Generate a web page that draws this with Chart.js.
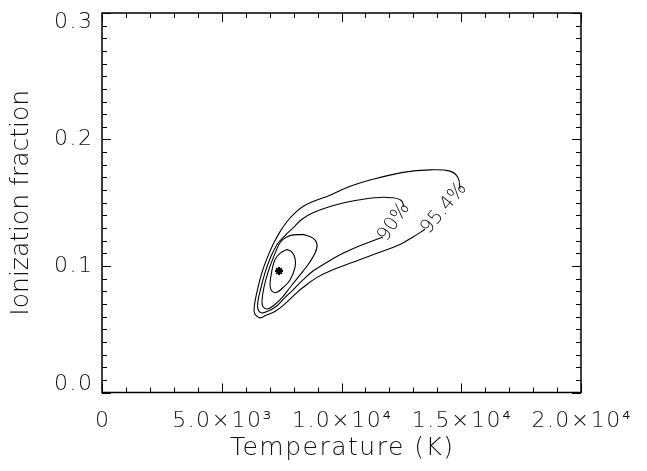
<!DOCTYPE html>
<html>
<head>
<meta charset="utf-8">
<script src="https://cdn.jsdelivr.net/npm/chart.js@4.4.1/dist/chart.umd.min.js"></script>
<style>
  html, body { margin: 0; padding: 0; background: #fff; }
  #wrap { width: 647px; height: 471px; }
</style>
</head>
<body>
<div id="wrap"><canvas id="myChart"></canvas></div>
<script>
'use strict';

// axis ticks
const xTicks = [0, 5000, 10000, 15000, 20000];
const xTickLabels = ['0', '5.0×10³', '1.0×10⁴', '1.5×10⁴', '2.0×10⁴'];
const yTicks = [0, 0.1, 0.2, 0.3];
const yTickLabels = ['0.0', '0.1', '0.2', '0.3'];

// innermost contour (closed)
const c1Temp = [7720, 7930, 8060, 8060, 7850, 7560, 7270, 7060, 7020, 7100, 7220, 7430, 7720];
const c1Frac = [0.113, 0.111, 0.106, 0.099, 0.089, 0.083, 0.079, 0.081, 0.087, 0.097, 0.105, 0.110, 0.113];

// second contour (closed)
const c2Temp = [8390, 8810, 8980, 8890, 8600, 8270, 7850, 7520, 7180, 6890, 6720, 6680, 6760, 6930, 7140, 7390, 7560, 7850, 8390];
const c2Frac = [0.125, 0.122, 0.117, 0.110, 0.101, 0.093, 0.083, 0.075, 0.069, 0.066, 0.068, 0.072, 0.083, 0.095, 0.106, 0.117, 0.121, 0.124, 0.125];

// 90% contour (open where the label sits)
const c3Temp = [12610, 12480, 12110, 11400, 10350, 9520, 8810, 8350, 7970, 7640, 7310, 7020, 6810, 6640, 6510, 6510, 6640, 6890, 7270, 7640, 7970, 8390, 8810, 9400, 10060, 10900, 11730];
const c3Frac = [0.147, 0.152, 0.154, 0.154, 0.151, 0.147, 0.142, 0.137, 0.130, 0.124, 0.117, 0.106, 0.095, 0.083, 0.072, 0.066, 0.063, 0.064, 0.068, 0.075, 0.081, 0.089, 0.096, 0.103, 0.110, 0.117, 0.123];

// 95.4% contour (open where the label sits)
const c4Temp = [14950, 14860, 14530, 13700, 12570, 11190, 10360, 9520, 8810, 8390, 8060, 7720, 7430, 7140, 6890, 6680, 6510, 6390, 6350, 6430, 6600, 6850, 7220, 7640, 7970, 8390, 8980, 9640, 10480, 11480, 12440, 12990, 13490];
const c4Frac = [0.161, 0.170, 0.175, 0.176, 0.174, 0.168, 0.163, 0.156, 0.151, 0.147, 0.142, 0.135, 0.127, 0.117, 0.106, 0.095, 0.083, 0.072, 0.064, 0.061, 0.059, 0.061, 0.064, 0.070, 0.076, 0.083, 0.091, 0.097, 0.103, 0.110, 0.117, 0.123, 0.129];

// best fit
const bestTemp = [7390];
const bestFrac = [0.096];

// contour labels
const contourLabels = ['90%', '95.4%'];
const labelTemp = [12190, 14280];
const labelFrac = [0.1348, 0.1455];
const labelAngle = [-56, -50];

function toPoints(t, f) {
    return t.map((v, i) => ({ x: v, y: f[i] }));
}

function contourSet(t, f) {
    return {
        data: toPoints(t, f),
        showLine: true,
        borderColor: '#000',
        borderWidth: 1.1,
        pointRadius: 0,
        tension: 0.4,
        fill: false
    };
}

const TICK_FONT = '200 22px "DejaVu Sans"';
const TITLE_FONT = '200 25px "DejaVu Sans"';
const LABEL_FONT = '200 19px "DejaVu Sans"';

// IDL style frame, inward ticks and texts
const idlAxes = {
    id: 'idlAxes',
    afterDraw(chart) {
        const ctx = chart.ctx;
        const a = chart.chartArea;
        const xs = chart.scales.x;
        const ys = chart.scales.y;
        ctx.save();
        ctx.strokeStyle = '#000';
        ctx.lineWidth = 1.5;
        ctx.strokeRect(a.left, a.top, a.right - a.left, a.bottom - a.top);

        ctx.lineWidth = 1;
        ctx.beginPath();
        for (let v = 0; v <= 20000; v += 1000) {
            const px = Math.round(xs.getPixelForValue(v)) + 0.5;
            const len = v % 5000 === 0 ? 9 : 5;
            ctx.moveTo(px, a.bottom); ctx.lineTo(px, a.bottom - len);
            ctx.moveTo(px, a.top); ctx.lineTo(px, a.top + len);
        }
        for (let i = 0; i <= 30; i++) {
            const py = Math.round(ys.getPixelForValue(i / 100)) + 0.5;
            const len = i % 10 === 0 ? 9 : 5;
            ctx.moveTo(a.left, py); ctx.lineTo(a.left + len, py);
            ctx.moveTo(a.right, py); ctx.lineTo(a.right - len, py);
        }
        ctx.stroke();

        ctx.fillStyle = '#111';
        ctx.font = TICK_FONT;
        ctx.letterSpacing = '1.5px';
        ctx.textBaseline = 'middle';
        ctx.textAlign = 'center';
        xTicks.forEach((v, i) => {
            ctx.fillText(xTickLabels[i], xs.getPixelForValue(v) + 0.75, a.bottom + 29);
        });
        ctx.textAlign = 'right';
        yTicks.forEach((v, i) => {
            let py = ys.getPixelForValue(v);
            py = Math.min(Math.max(py, a.top + 9), a.bottom - 8);
            ctx.fillText(yTickLabels[i], a.left - 8.5, py);
        });

        // axis titles
        ctx.font = TITLE_FONT;
        ctx.textAlign = 'center';
        ctx.fillText('Temperature (K)', (a.left + a.right) / 2 + 0.75, a.bottom + 56);
        ctx.letterSpacing = '0px';
        ctx.save();
        ctx.translate(21, (a.top + a.bottom) / 2);
        ctx.rotate(-Math.PI / 2);
        ctx.fillText('Ionization fraction', 0, 0);
        ctx.restore();

        // contour labels
        ctx.font = LABEL_FONT;
        contourLabels.forEach((txt, i) => {
            ctx.save();
            ctx.translate(xs.getPixelForValue(labelTemp[i]), ys.getPixelForValue(labelFrac[i]));
            ctx.rotate(labelAngle[i] * Math.PI / 180);
            ctx.fillText(txt, 0, 0);
            ctx.restore();
        });
        ctx.restore();
    }
};

new Chart(document.getElementById('myChart'), {
    type: 'scatter',
    data: {
        datasets: [
            contourSet(c1Temp, c1Frac),
            contourSet(c2Temp, c2Frac),
            contourSet(c3Temp, c3Frac),
            contourSet(c4Temp, c4Frac),
            {
                data: toPoints(bestTemp, bestFrac),
                pointStyle: 'star',
                pointRadius: 4,
                borderColor: '#000',
                backgroundColor: '#000',
                borderWidth: 2,
                showLine: false
            }
        ]
    },
    options: {
        responsive: true,
        maintainAspectRatio: false,
        animation: false,
        devicePixelRatio: 1,
        layout: { padding: { top: 13, right: 66, bottom: 0, left: 0 } },
        plugins: { legend: { display: false }, tooltip: { enabled: false } },
        scales: {
            x: {
                type: 'linear',
                min: 0,
                max: 20000,
                afterFit(s) { s.height = 78.5; },
                ticks: { display: false, stepSize: 5000 },
                grid: { display: false },
                border: { display: false }
            },
            y: {
                type: 'linear',
                min: 0,
                max: 0.3,
                afterFit(s) { s.width = 102; },
                ticks: { display: false, stepSize: 0.1 },
                grid: { display: false },
                border: { display: false }
            }
        }
    },
    plugins: [idlAxes]
});
</script>
</body>
</html>
